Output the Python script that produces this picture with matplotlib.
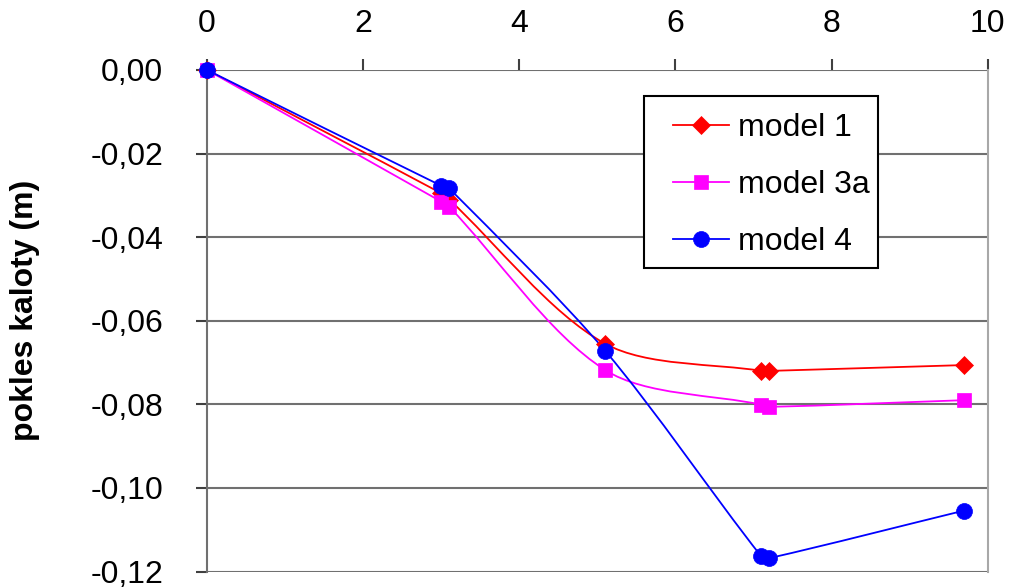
import matplotlib
matplotlib.use("Agg")
import numpy as np
import matplotlib.pyplot as plt
from matplotlib.path import Path
from matplotlib.patches import PathPatch, Rectangle
from matplotlib.lines import Line2D
from matplotlib.legend_handler import HandlerLine2D
from matplotlib.ticker import FuncFormatter

plt.rcParams["font.family"] = ["Liberation Sans", "DejaVu Sans"]

# Excavation stage (x) and crown settlement (m) per model
stage = [0.0, 3.0, 3.1, 5.1, 7.1, 7.2, 9.7]
model_1 = [0.0, -0.0295, -0.0310, -0.0655, -0.0720, -0.0720, -0.0706]
model_3a = [0.0, -0.0315, -0.0327, -0.0718, -0.0801, -0.0806, -0.0790]
model_4 = [0.0, -0.0277, -0.0283, -0.0672, -0.1164, -0.1168, -0.1054]

series_names = ["model 1", "model 3a", "model 4"]
series_colors = ["#ff0000", "#ff00ff", "#0000ff"]
series_markers = ["D", "s", "o"]
series_msize = [9.6, 10.5, 11.5]

x_ticks = [0, 2, 4, 6, 8, 10]
y_ticks = [0.0, -0.02, -0.04, -0.06, -0.08, -0.10, -0.12]

FS = 23


def smooth_path(ax, xs, ys, k=0.3):
    """Smooth cubic Bezier path through all points, tangents set in display space."""
    pts = ax.transData.transform(np.column_stack([xs, ys]))
    n = len(pts)
    tang = []
    for i in range(n):
        a = pts[max(i - 1, 0)]
        b = pts[min(i + 1, n - 1)]
        d = b - a
        tang.append(d / np.hypot(*d))
    verts = [pts[0]]
    codes = [Path.MOVETO]
    for i in range(n - 1):
        L = np.hypot(*(pts[i + 1] - pts[i]))
        verts += [pts[i] + tang[i] * L * k, pts[i + 1] - tang[i + 1] * L * k, pts[i + 1]]
        codes += [Path.CURVE4] * 3
    data_verts = ax.transData.inverted().transform(np.array(verts))
    return Path(data_verts, codes)


fig = plt.figure(figsize=(10.1, 5.88), dpi=100)
ax = fig.add_axes([0.205, 0.028, 0.773, 0.853])

ax.set_xlim(0, 10)
ax.set_ylim(-0.12, 0.0)

for yv in y_ticks:
    ax.axhline(yv, color="#707070", lw=1.5, zorder=1)

handles = []
for vals, name, col, mk, ms in zip([model_1, model_3a, model_4], series_names,
                                   series_colors, series_markers, series_msize):
    ax.add_patch(PathPatch(smooth_path(ax, stage, vals), facecolor="none",
                           edgecolor=col, lw=1.3, zorder=3))
    ax.plot(stage, vals, ls="none", marker=mk, ms=ms, color=col,
            markeredgewidth=0.5, zorder=4, clip_on=False)
    handles.append(Line2D([], [], color=col, lw=1.3, marker=mk, ms=ms,
                          markeredgewidth=0.5, label=name))

ax.xaxis.tick_top()
ax.set_xticks(x_ticks)
ax.set_yticks(y_ticks)
ax.yaxis.set_major_formatter(FuncFormatter(
    lambda v, p: f"{v:.2f}".replace(".", ",").replace("-0,00", "0,00")))
ax.xaxis.set_major_formatter(FuncFormatter(lambda v, p: f"{v:g}"))
ax.tick_params(axis="x", which="major", direction="out", length=8, width=1.5,
               color="#404040", labelsize=FS, pad=14)
ax.tick_params(axis="y", which="major", direction="out", length=8, width=1.5,
               color="#404040", labelsize=FS, pad=23.5)

for side in ["top", "bottom"]:
    ax.spines[side].set_visible(False)
ax.spines["left"].set_color("#707070")
ax.spines["left"].set_linewidth(1.5)
ax.spines["right"].set_color("#a8a8a8")
ax.spines["right"].set_linewidth(1.5)

ax.set_ylabel("pokles kaloty (m)", fontsize=FS, fontweight="bold", labelpad=36)
ax.yaxis.label.set_y(0.521)

# legend frame drawn as its own box, entries placed inside it
ax.add_patch(Rectangle((0.5595, 0.605), 0.2995, 0.343, transform=ax.transAxes,
                       facecolor="white", edgecolor="black", lw=1.5, zorder=5))
leg = ax.legend(handles=handles, loc="upper left", bbox_to_anchor=(0.5967, 0.914),
                fontsize=FS, frameon=False, handlelength=1.75, handletextpad=0.3,
                labelspacing=0.85, borderpad=0, borderaxespad=0,
                handler_map={Line2D: HandlerLine2D()})
leg.set_zorder(6)

fig.savefig("out.png", dpi=100)
